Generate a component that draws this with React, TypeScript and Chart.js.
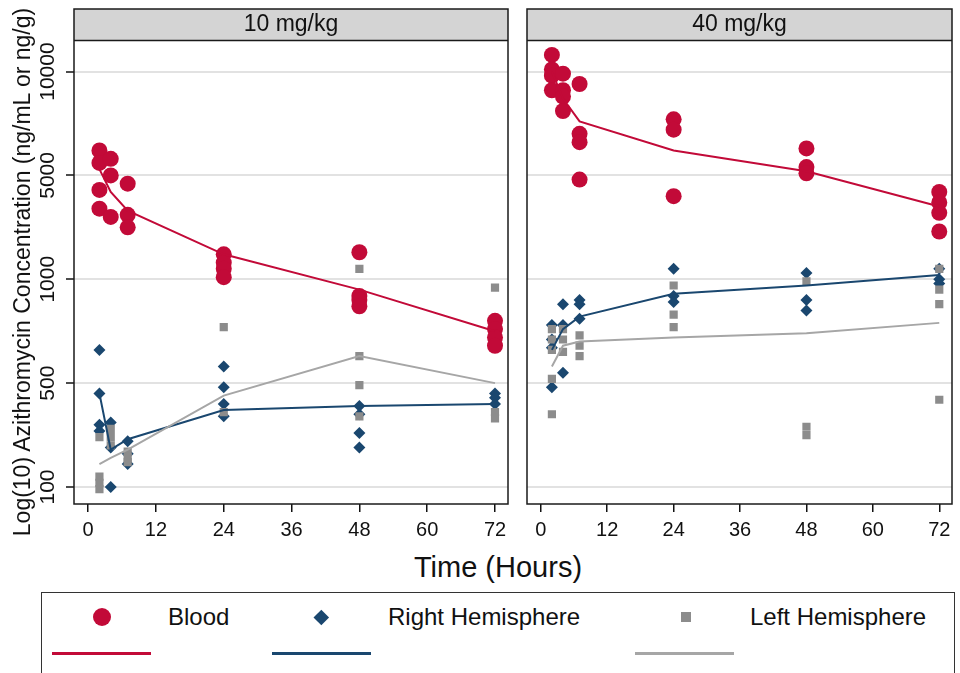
import React, { useEffect, useRef } from 'react';
import { Chart, registerables } from 'chart.js';

Chart.register(...registerables);

const FONT = "'Liberation Sans', Arial, Helvetica, sans-serif";
Chart.defaults.font.family = FONT;
Chart.defaults.color = '#111111';

// ---- data (log10 concentration as plotted) ----
const sampleTimes = [2, 4, 7, 24, 48, 72];
const xTickValues = [0, 12, 24, 36, 48, 60, 72];
const yTickValues = [2, 2.5, 3, 3.5, 4];
const yTickLabels = ['100', '500', '1000', '5000', '10000'];
const panelTitles = ['10 mg/kg', '40 mg/kg'];
const seriesNames = ['Blood', 'Right Hemisphere', 'Left Hemisphere'];

// 10 mg/kg — observed values per sample time
const blood10 = [[3.62, 3.56, 3.43, 3.34], [3.58, 3.5, 3.3], [3.46, 3.31, 3.25], [3.12, 3.08, 3.05, 3.01], [3.13, 2.92, 2.9, 2.87], [2.8, 2.76, 2.72, 2.68]];
const right10 = [[2.66, 2.45, 2.3, 2.27], [2.31, 2.19, 2.0], [2.22, 2.16, 2.11], [2.58, 2.48, 2.4, 2.34], [2.39, 2.35, 2.26, 2.19], [2.45, 2.43, 2.4]];
const left10 = [[2.24, 2.05, 2.02, 1.99], [2.28, 2.24, 2.2], [2.17, 2.14, 2.12], [2.77, 2.36], [3.05, 2.63, 2.49, 2.34], [2.96, 2.36, 2.33]];
// 10 mg/kg — fitted lines
const bloodFit10 = [3.53, 3.42, 3.33, 3.12, 2.95, 2.75];
const rightFit10 = [2.45, 2.18, 2.23, 2.37, 2.39, 2.4];
const leftFit10 = [2.11, 2.14, 2.18, 2.44, 2.63, 2.5];

// 40 mg/kg — observed values per sample time
const blood40 = [[4.08, 4.01, 3.98, 3.91], [3.99, 3.91, 3.88, 3.81], [3.94, 3.7, 3.66, 3.48], [3.77, 3.72, 3.4], [3.63, 3.54, 3.51], [3.42, 3.37, 3.32, 3.23]];
const right40 = [[2.78, 2.71, 2.67, 2.48], [2.88, 2.78, 2.55], [2.9, 2.88, 2.81], [3.05, 2.92, 2.89], [3.03, 2.9, 2.85], [3.05, 3.0, 2.98]];
const left40 = [[2.76, 2.71, 2.66, 2.52, 2.35], [2.76, 2.71, 2.65], [2.73, 2.68, 2.63], [2.97, 2.83, 2.77], [2.99, 2.29, 2.25], [3.05, 2.95, 2.88, 2.42]];
// 40 mg/kg — fitted lines
const bloodFit40 = [4.0, 3.87, 3.76, 3.62, 3.52, 3.35];
const rightFit40 = [2.66, 2.76, 2.82, 2.93, 2.97, 3.02];
const leftFit40 = [2.58, 2.68, 2.7, 2.72, 2.74, 2.79];

const RED = '#c20a38';
const BLUE = '#1a476f';
const GRAY = '#8c8c8c';
const GRAY_LINE = '#a6a6a6';

const toPoints = (groups: number[][]) =>
  groups.flatMap((vals, i) => vals.map((v) => ({ x: sampleTimes[i], y: v })));
const toLine = (vals: number[]) => vals.map((v, i) => ({ x: sampleTimes[i], y: v }));

const framePlugin = {
  id: 'panelFrame',
  beforeDraw(chart: any) {
    const { ctx, chartArea } = chart;
    const { left, right, top } = chartArea;
    ctx.save();
    ctx.fillStyle = '#d4d4d4';
    ctx.fillRect(left, 9, right - left, top - 9);
    ctx.restore();
  },
  afterDraw(chart: any) {
    const { ctx, chartArea } = chart;
    const { left, right, top, bottom } = chartArea;
    ctx.save();
    ctx.strokeStyle = '#1a1a1a';
    ctx.lineWidth = 1.5;
    ctx.strokeRect(left, 9, right - left, bottom - 9);
    ctx.beginPath();
    ctx.moveTo(left, top);
    ctx.lineTo(right, top);
    ctx.stroke();
    ctx.restore();
  },
};

type PanelProps = {
  title: string;
  blood: number[][];
  right: number[][];
  left: number[][];
  bloodFit: number[];
  rightFit: number[];
  leftFit: number[];
  isLeft: boolean;
  x: number;
  width: number;
  height: number;
};

function Panel(p: PanelProps) {
  const ref = useRef<HTMLCanvasElement | null>(null);
  useEffect(() => {
    if (!ref.current) return;
    const chart = new Chart(ref.current, {
      type: 'scatter',
      data: {
        datasets: [
          { label: seriesNames[2] + ' fit', data: toLine(p.leftFit), showLine: true, pointRadius: 0, borderColor: GRAY_LINE, borderWidth: 2, tension: 0 },
          { label: seriesNames[1] + ' fit', data: toLine(p.rightFit), showLine: true, pointRadius: 0, borderColor: BLUE, borderWidth: 2, tension: 0 },
          { label: seriesNames[0] + ' fit', data: toLine(p.bloodFit), showLine: true, pointRadius: 0, borderColor: RED, borderWidth: 2, tension: 0 },
          { label: seriesNames[2], data: toPoints(p.left), pointStyle: 'rect', pointRadius: 5.8, pointBorderWidth: 0, backgroundColor: GRAY, borderColor: GRAY },
          { label: seriesNames[1], data: toPoints(p.right), pointStyle: 'rectRot', pointRadius: 6, pointBorderWidth: 0, backgroundColor: BLUE, borderColor: BLUE },
          { label: seriesNames[0], data: toPoints(p.blood), pointStyle: 'circle', pointRadius: 8, pointBorderWidth: 0, backgroundColor: RED, borderColor: RED },
        ] as any,
      },
      options: {
        animation: false,
        responsive: false,
        maintainAspectRatio: false,
        events: [],
        layout: { padding: { left: p.isLeft ? 0 : 9, right: p.isLeft ? 10 : 1, top: 0, bottom: 0 } },
        plugins: {
          legend: { display: false },
          tooltip: { enabled: false },
          title: {
            display: true,
            text: p.title,
            fullSize: false,
            color: '#111111',
            font: { size: 23, weight: 'normal', family: FONT, lineHeight: 1.2 },
            padding: { top: 11, bottom: 2 },
          },
        },
        scales: {
          x: {
            type: 'linear',
            min: -2.5,
            max: 74.3,
            afterBuildTicks: (s: any) => {
              s.ticks = xTickValues.map((v) => ({ value: v }));
            },
            afterFit: (s: any) => {
              s.height = p.height - 504;
            },
            grid: { drawOnChartArea: false, drawTicks: true, tickLength: 8, tickColor: '#111111', tickWidth: 1.5, color: '#111111', lineWidth: 1.5 },
            border: { display: false },
            ticks: { color: '#111111', font: { size: 20 }, padding: 6, minRotation: 0, maxRotation: 0, autoSkip: false, callback: (v: any) => String(v) },
          },
          y: {
            type: 'linear',
            min: 1.918,
            max: 4.149,
            afterBuildTicks: (s: any) => {
              s.ticks = yTickValues.map((v) => ({ value: v }));
            },
            afterFit: (s: any) => {
              s.width = p.isLeft ? 74 : 0;
            },
            grid: { color: '#e2e2e2', lineWidth: 2, drawTicks: p.isLeft, tickLength: 8, tickColor: '#111111', tickWidth: 1.5 },
            border: { display: false },
            ticks: {
              display: p.isLeft,
              color: '#111111',
              font: { size: 21 },
              minRotation: 90,
              maxRotation: 90,
              crossAlign: 'center',
              padding: -11,
              autoSkip: false,
              callback: (_v: any, i: number) => yTickLabels[i],
            },
          },
        },
      } as any,
      plugins: [framePlugin],
    });
    return () => chart.destroy();
  }, []);
  return (
    <canvas
      ref={ref}
      width={p.width}
      height={p.height}
      style={{ position: 'absolute', left: p.x, top: 0, width: p.width, height: p.height }}
    />
  );
}

const legendText: React.CSSProperties = {
  position: 'absolute',
  fontSize: 24,
  lineHeight: '26px',
  color: '#111',
  whiteSpace: 'nowrap',
};

export default function App() {
  const H = 545;
  return (
    <div style={{ position: 'absolute', left: 0, top: 0, width: 960, height: 673, overflow: 'hidden', background: '#fff', fontFamily: FONT }}>
      <Panel title={panelTitles[0]} blood={blood10} right={right10} left={left10} bloodFit={bloodFit10} rightFit={rightFit10} leftFit={leftFit10} isLeft={true} x={0} width={518} height={H} />
      <Panel title={panelTitles[1]} blood={blood40} right={right40} left={left40} bloodFit={bloodFit40} rightFit={rightFit40} leftFit={leftFit40} isLeft={false} x={518} width={442} height={H} />

      {/* y-axis title */}
      <div style={{ position: 'absolute', left: 22 - 290, top: 272 - 13, width: 580, height: 26, lineHeight: '26px', fontSize: 23, textAlign: 'center', transform: 'rotate(-90deg)', transformOrigin: '50% 50%', whiteSpace: 'nowrap', color: '#111' }}>
        Log(10) Azithromycin Concentration (ng/mL or ng/g)
      </div>

      {/* x-axis title */}
      <div style={{ position: 'absolute', left: 298, top: 550, width: 400, textAlign: 'center', fontSize: 29, lineHeight: '34px', color: '#111', whiteSpace: 'nowrap' }}>
        Time (Hours)
      </div>

      {/* legend */}
      <div style={{ position: 'absolute', left: 41, top: 592, width: 914, height: 120, border: '1.5px solid #333', boxSizing: 'border-box' }} />
      <div style={{ position: 'absolute', left: 92.7, top: 607.7, width: 18, height: 18, borderRadius: '50%', background: RED }} />
      <div style={{ ...legendText, left: 168, top: 604 }}>{seriesNames[0]}</div>
      <div style={{ position: 'absolute', left: 321.7 - 5.3, top: 617.3 - 5.3, width: 10.6, height: 10.6, background: BLUE, transform: 'rotate(45deg)' }} />
      <div style={{ ...legendText, left: 388, top: 604 }}>{seriesNames[1]}</div>
      <div style={{ position: 'absolute', left: 686 - 5, top: 617 - 5, width: 10, height: 10, background: GRAY }} />
      <div style={{ ...legendText, left: 750, top: 604 }}>{seriesNames[2]}</div>
      <div style={{ position: 'absolute', left: 52, top: 652, width: 99, height: 2.5, background: RED }} />
      <div style={{ position: 'absolute', left: 272, top: 652, width: 99, height: 2.5, background: BLUE }} />
      <div style={{ position: 'absolute', left: 635, top: 652, width: 99, height: 2.5, background: GRAY_LINE }} />
    </div>
  );
}
